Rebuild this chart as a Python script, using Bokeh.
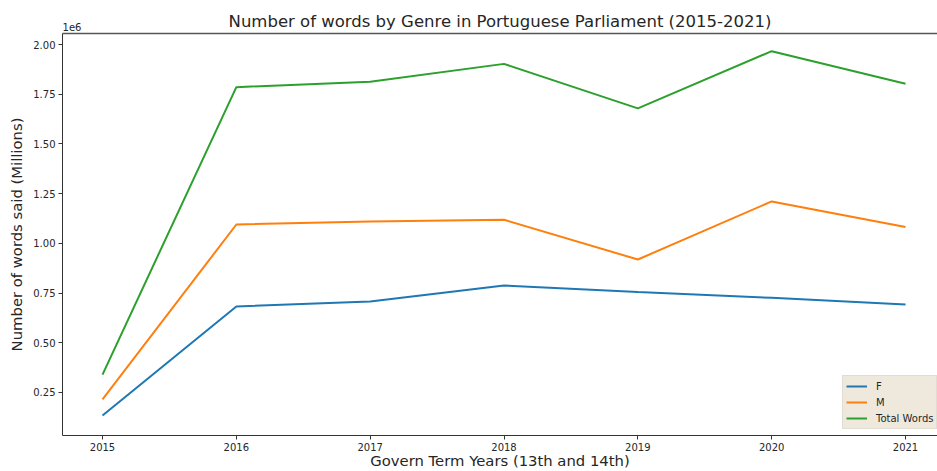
from bokeh.plotting import figure
from bokeh.models import (Legend, LegendItem, LinearAxis, FixedTicker,
                          CustomJSTickFormatter, Range1d)
from bokeh.embed import file_html
from bokeh.resources import INLINE

# Words spoken per year, split by genre
years = [2015, 2016, 2017, 2018, 2019, 2020, 2021]
words_f = [134000, 683000, 708000, 788000, 755000, 726000, 693000]
words_m = [215000, 1095000, 1110000, 1119000, 919000, 1211000, 1082000]
words_total = [340000, 1786000, 1813000, 1903000, 1679000, 1967000, 1803000]

y_ticks = [250000, 500000, 750000, 1000000, 1250000, 1500000, 1750000, 2000000]

TITLE = "Number of words by Genre in Portuguese Parliament (2015-2021)"
FONT = "DejaVu Sans"
TEXT = "#262626"

X0, X1 = 2014.701, 2021.239

p = figure(width=937, height=471, output_backend="svg", toolbar_location=None,
           x_range=Range1d(X0, X1),
           y_range=Range1d(33700, 2055800),
           min_border_left=62, min_border_right=0,
           min_border_top=33, min_border_bottom=36)
p.title_location = None

p.xgrid.visible = False
p.ygrid.visible = False
p.outline_line_color = None
p.background_fill_color = "white"
p.border_fill_color = "white"

# bottom axis
xa = p.xaxis[0]
xa.ticker = FixedTicker(ticks=years)
xa.axis_label = "Govern Term Years (13th and 14th)"
xa.axis_label_text_font = FONT
xa.axis_label_text_font_size = "14.8px"
xa.axis_label_text_font_style = "normal"
xa.axis_label_text_color = TEXT
xa.axis_label_standoff = -2
xa.major_label_text_font = FONT
xa.major_label_text_font_size = "10px"
xa.major_label_text_color = TEXT
xa.major_label_standoff = 3
xa.major_tick_out = 4
xa.major_tick_in = 0
xa.minor_tick_out = 0
xa.minor_tick_in = 0
xa.axis_line_color = "#333333"
xa.major_tick_line_color = "#333333"

# left axis
ya = p.yaxis[0]
ya.ticker = FixedTicker(ticks=y_ticks)
ya.formatter = CustomJSTickFormatter(code="return (tick / 1e6).toFixed(2);")
ya.axis_label = "Number of words said (Millions)"
ya.axis_label_text_font = FONT
ya.axis_label_text_font_size = "14.8px"
ya.axis_label_text_font_style = "normal"
ya.axis_label_text_color = TEXT
ya.axis_label_standoff = 5
ya.major_label_text_font = FONT
ya.major_label_text_font_size = "10px"
ya.major_label_text_color = TEXT
ya.major_label_standoff = 3
ya.major_tick_out = 4
ya.major_tick_in = 0
ya.minor_tick_out = 0
ya.minor_tick_in = 0
ya.axis_line_color = "#333333"
ya.major_tick_line_color = "#333333"

# top spine, carrying the offset note "1e6" at its left end and the title above
top = LinearAxis(ticker=FixedTicker(ticks=[X0 + 9.5 / 133.83]),
                 formatter=CustomJSTickFormatter(code='return "1e6";'),
                 major_tick_out=0, major_tick_in=0,
                 minor_tick_out=0, minor_tick_in=0,
                 major_label_text_font=FONT, major_label_text_font_size="10px",
                 major_label_text_color=TEXT, major_label_standoff=3,
                 axis_label=TITLE, axis_label_text_font=FONT,
                 axis_label_text_font_size="16.5px",
                 axis_label_text_font_style="normal",
                 axis_label_text_color=TEXT, axis_label_standoff=-11,
                 axis_line_color="#555555", axis_line_width=1.5)
p.add_layout(top, "above")

r_f = p.line(years, words_f, line_color="#1f77b4", line_width=2)
r_m = p.line(years, words_m, line_color="#ff7f0e", line_width=2)
r_t = p.line(years, words_total, line_color="#2ca02c", line_width=2)

legend = Legend(items=[LegendItem(label="F", renderers=[r_f]),
                       LegendItem(label="M", renderers=[r_m]),
                       LegendItem(label="Total Words", renderers=[r_t])],
                location=(780, 6), orientation="vertical",
                label_text_font=FONT, label_text_font_size="10px",
                label_text_color=TEXT,
                glyph_width=21, glyph_height=14, label_height=14,
                label_standoff=9, spacing=2, padding=3, margin=0,
                background_fill_color="#efe9dd", background_fill_alpha=1.0,
                border_line_color="#d6d2ca", border_line_width=1)
p.add_layout(legend, "center")

open("out.html", "w").write(file_html(p, INLINE))
